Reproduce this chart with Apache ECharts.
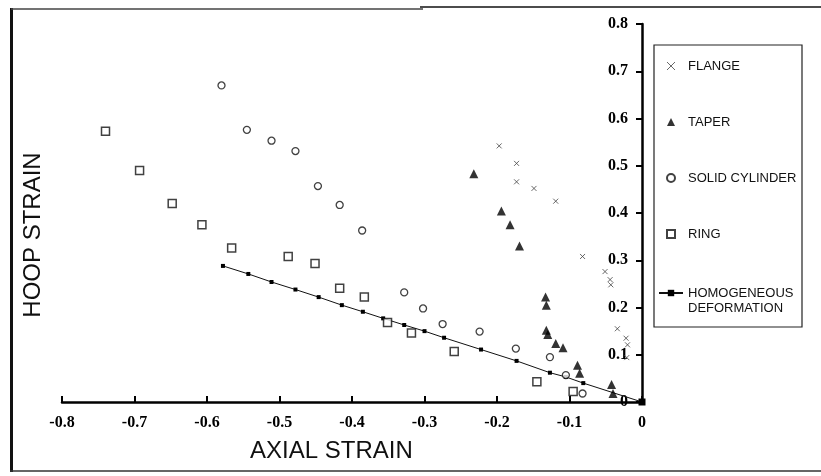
<!DOCTYPE html>
<html>
<head>
<meta charset="utf-8">
<script src="https://cdn.jsdelivr.net/npm/echarts@6/dist/echarts.min.js"></script>
<style>
  html, body { margin: 0; padding: 0; background: #fff; }
  #chart { width: 821px; height: 476px; }
</style>
</head>
<body>
<div id="chart"></div>
<script>
// Axial vs. hoop strain measured on four specimen geometries
const xTicks = [-0.8, -0.7, -0.6, -0.5, -0.4, -0.3, -0.2, -0.1, 0];
const yTicks = [0, 0.1, 0.2, 0.3, 0.4, 0.5, 0.6, 0.7, 0.8];

const flange = [
  [-0.197, 0.542], [-0.173, 0.505], [-0.173, 0.466], [-0.149, 0.452],
  [-0.119, 0.425], [-0.082, 0.308], [-0.051, 0.276], [-0.044, 0.259],
  [-0.043, 0.248], [-0.034, 0.155], [-0.022, 0.135], [-0.020, 0.121],
  [-0.021, 0.094]
];

const taper = [
  [-0.232, 0.483], [-0.194, 0.404], [-0.182, 0.375], [-0.169, 0.330],
  [-0.133, 0.222], [-0.132, 0.205], [-0.132, 0.152], [-0.130, 0.143],
  [-0.119, 0.124], [-0.109, 0.115], [-0.089, 0.078], [-0.086, 0.061],
  [-0.042, 0.037], [-0.040, 0.018]
];

const solidCylinder = [
  [-0.580, 0.670], [-0.545, 0.576], [-0.511, 0.553], [-0.478, 0.531],
  [-0.447, 0.457], [-0.417, 0.417], [-0.386, 0.363], [-0.328, 0.232],
  [-0.302, 0.198], [-0.275, 0.165], [-0.224, 0.149], [-0.174, 0.113],
  [-0.127, 0.095], [-0.105, 0.057], [-0.082, 0.018]
];

const ring = [
  [-0.740, 0.573], [-0.693, 0.490], [-0.648, 0.420], [-0.607, 0.375],
  [-0.566, 0.326], [-0.488, 0.308], [-0.451, 0.293], [-0.417, 0.241],
  [-0.383, 0.222], [-0.351, 0.168], [-0.318, 0.146], [-0.259, 0.107],
  [-0.145, 0.043], [-0.095, 0.022]
];

const homogeneous = [
  [-0.578, 0.288], [-0.543, 0.271], [-0.511, 0.254], [-0.478, 0.238],
  [-0.446, 0.222], [-0.414, 0.205], [-0.385, 0.191], [-0.357, 0.177],
  [-0.328, 0.163], [-0.300, 0.150], [-0.273, 0.136], [-0.222, 0.111],
  [-0.173, 0.087], [-0.127, 0.062], [-0.105, 0.053], [-0.081, 0.040],
  [0, 0]
];

const names = ['FLANGE', 'TAPER', 'SOLID CYLINDER', 'RING', 'HOMOGENEOUS\nDEFORMATION'];

const tickFont = { fontFamily: 'Liberation Serif', fontWeight: 'bold', fontSize: 16, color: '#000' };
const legendFont = { fontFamily: 'Liberation Sans', fontSize: 13, color: '#111', lineHeight: 15 };
const fmt = v => (Math.abs(v) < 1e-9 ? '0' : v.toFixed(1));

const chart = echarts.init(document.getElementById('chart'), null, { renderer: 'canvas' });

chart.setOption({
  animation: false,
  backgroundColor: '#fff',
  grid: { left: 62, right: 179, top: 24, bottom: 74, containLabel: false },
  xAxis: {
    type: 'value',
    min: xTicks[0], max: xTicks[xTicks.length - 1], interval: 0.1,
    axisLine: { onZero: false, lineStyle: { color: '#000', width: 2.5 } },
    axisTick: { inside: true, length: 6, lineStyle: { color: '#000', width: 2 } },
    axisLabel: Object.assign({ margin: 13, formatter: fmt }, tickFont),
    splitLine: { show: false }
  },
  yAxis: {
    type: 'value', position: 'right',
    min: yTicks[0], max: yTicks[yTicks.length - 1], interval: 0.1,
    axisLine: { show: true, onZero: false, lineStyle: { color: '#000', width: 2.5 } },
    axisTick: { show: true, inside: true, length: 6, lineStyle: { color: '#000', width: 2 } },
    axisLabel: Object.assign({ inside: true, margin: 14, formatter: fmt }, tickFont),
    splitLine: { show: false }
  },
  legend: [
    {
      // point-marker entries
      orient: 'vertical',
      left: 666, top: 58.5,
      padding: 0,
      itemWidth: 8, itemHeight: 8,
      itemGap: 41,
      textStyle: Object.assign({ padding: [0, 0, 0, 8] }, legendFont),
      data: [
        { name: names[0], itemStyle: { borderWidth: 1 } },
        names[1], names[2], names[3]
      ]
    },
    {
      // line entry; caption's first line sits level with the icon
      orient: 'vertical',
      left: 658, top: 270.5,
      padding: 0,
      itemWidth: 24, itemHeight: 8,
      formatter: name => ' \n' + name,
      textStyle: legendFont,
      data: [names[4]]
    }
  ],
  graphic: [
    { type: 'rect', shape: { x: 654, y: 45, width: 148, height: 282 }, style: { fill: 'none', stroke: '#222', lineWidth: 1.2 }, z: -1 },
    { type: 'line', shape: { x1: 11.5, y1: 8, x2: 11.5, y2: 472 }, style: { stroke: '#111', lineWidth: 3 } },
    { type: 'line', shape: { x1: 11, y1: 9, x2: 423, y2: 9 }, style: { stroke: '#444', lineWidth: 1.5 } },
    { type: 'line', shape: { x1: 420, y1: 7, x2: 821, y2: 7 }, style: { stroke: '#111', lineWidth: 1.5 } },
    { type: 'line', shape: { x1: 10, y1: 471, x2: 821, y2: 471 }, style: { stroke: '#333', lineWidth: 1.5 } },
    {
      type: 'text', left: 250, top: 439,
      style: { text: 'AXIAL STRAIN', font: '24px "Liberation Sans"', fill: '#111' }
    },
    {
      type: 'text', x: 33, y: 235, rotation: Math.PI / 2,
      style: { text: 'HOOP STRAIN', font: '24px "Liberation Sans"', fill: '#111', align: 'center', verticalAlign: 'middle' }
    }
  ],
  series: [
    {
      name: names[0], type: 'scatter', data: flange,
      symbol: 'path://M0,0L10,10M10,0L0,10', symbolSize: 5,
      itemStyle: { color: 'rgba(0,0,0,0)', borderColor: '#444', borderWidth: 1 }
    },
    {
      name: names[1], type: 'scatter', data: taper,
      symbol: 'triangle', symbolSize: 9,
      itemStyle: { color: '#000' }
    },
    {
      name: names[2], type: 'scatter', data: solidCylinder,
      symbol: 'circle', symbolSize: 7,
      itemStyle: { color: '#fff', borderColor: '#111', borderWidth: 1.3 }
    },
    {
      name: names[3], type: 'scatter', data: ring,
      symbol: 'rect', symbolSize: 8,
      itemStyle: { color: '#fff', borderColor: '#111', borderWidth: 1.5 }
    },
    {
      name: names[4], type: 'line',
      data: homogeneous.map((p, i) => i === homogeneous.length - 1 ? { value: p, symbolSize: 7 } : p),
      symbol: 'rect', symbolSize: 4, showAllSymbol: true,
      lineStyle: { color: '#111', width: 1 },
      itemStyle: { color: '#000' },
      z: 1
    }
  ]
});
</script>
</body>
</html>
